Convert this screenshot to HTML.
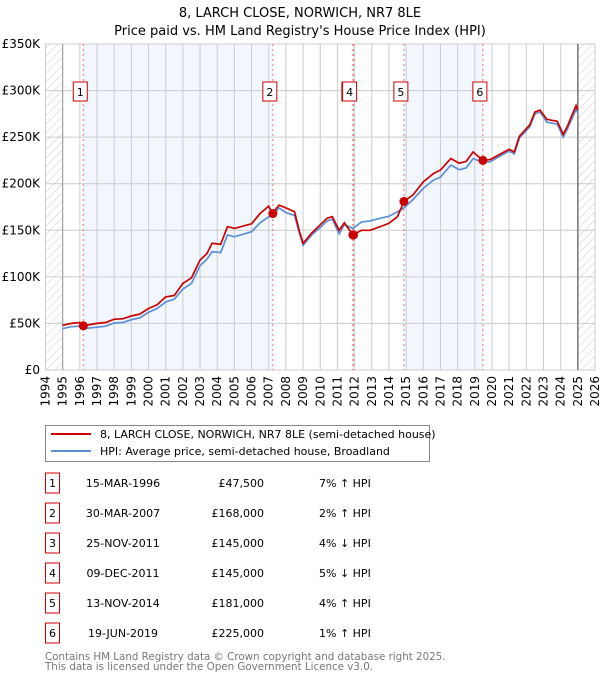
<!DOCTYPE html>
<html><head><meta charset="utf-8"><style>
body{margin:0;background:#fff;font-family:"DejaVu Sans","Liberation Sans",sans-serif;}
svg text{font-family:"DejaVu Sans","Liberation Sans",sans-serif;}
</style></head><body>
<svg id="chart" width="600" height="680" xmlns="http://www.w3.org/2000/svg">
<defs><pattern id="hatch" width="6" height="6" patternUnits="userSpaceOnUse" patternTransform="rotate(45)"><line x1="0" y1="0" x2="0" y2="6" stroke="#ccc" stroke-width="1"/></pattern></defs>
<text x="300" y="17" text-anchor="middle" font-size="13">8, LARCH CLOSE, NORWICH, NR7 8LE</text>
<text x="300" y="35" text-anchor="middle" font-size="13">Price paid vs. HM Land Registry's House Price Index (HPI)</text>
<g id="plot"></g>
<g>
<rect x="45.5" y="425.5" width="384" height="36" fill="#fff" stroke="#888"/>
<line x1="51" y1="434" x2="91" y2="434" stroke="#cc0000" stroke-width="2"/>
<text x="100" y="438" font-size="11">8, LARCH CLOSE, NORWICH, NR7 8LE (semi-detached house)</text>
<line x1="51" y1="451" x2="91" y2="451" stroke="#5b8fd6" stroke-width="2"/>
<text x="100" y="455" font-size="11">HPI: Average price, semi-detached house, Broadland</text>
</g>
<g id="table"></g>
<text x="45" y="660" font-size="10.3" fill="#777">Contains HM Land Registry data © Crown copyright and database right 2025.</text>
<text x="45" y="670" font-size="10.3" fill="#777">This data is licensed under the Open Government Licence v3.0.</text>
</svg>
<script>
const hpiYears=[1995,1995.5,1996,1996.2,1997,1997.5,1998,1998.5,1999,1999.5,2000,2000.5,2001,2001.5,2002,2002.5,2003,2003.4,2003.7,2004.2,2004.6,2005,2006,2006.5,2007,2007.2,2007.6,2008,2008.5,2008.8,2009.0,2009.5,2010,2010.4,2010.7,2011.1,2011.4,2011.9,2012.4,2012.9,2013.5,2014.0,2014.5,2014.87,2015.4,2016.0,2016.6,2017.0,2017.6,2018.1,2018.5,2018.9,2019.47,2019.9,2020.5,2021.0,2021.3,2021.6,2022.2,2022.5,2022.8,2023.2,2023.8,2024.15,2024.4,2024.9,2025.0];
const hpiValues=[44.5,46.5,47,44.5,46,47,50.5,51,54,56,62,66,73,76,87,93,112,119,127,126,145,143,148.5,158,164.5,165,174,169,166,146,134,145,153,160,162,146,156,152,159,160,163,165,170,174,183,195,204,207,220,215,217,227,223,223.6,230,235,232,249,261,275,277,266,264,250,259,280,276];
const priceYears=[1995,1995.5,1996,1996.2,1997,1997.5,1998,1998.5,1999,1999.5,2000,2000.5,2001,2001.5,2002,2002.5,2003,2003.4,2003.7,2004.2,2004.6,2005,2006,2006.5,2007,2007.2,2007.6,2008,2008.5,2008.8,2009.0,2009.5,2010,2010.4,2010.7,2011.1,2011.4,2011.9,2012.4,2012.9,2013.5,2014.0,2014.5,2014.87,2015.4,2016.0,2016.6,2017.0,2017.6,2018.1,2018.5,2018.9,2019.47,2019.9,2020.5,2021.0,2021.3,2021.6,2022.2,2022.5,2022.8,2023.2,2023.8,2024.15,2024.4,2024.9,2025.0];
const priceValues=[48,50,51,47.5,50,51,54.5,55,58,60,66,70,78.5,80,93,99,118,125,136,135,154,152,157,168,176,168,177,174,170,148,136,147,156,163,164.6,150,158,145,150,150,154,157.5,164.6,181,188,202,211,214.7,227,222,224,234,225,226,232,237,234,251,263,277,279,269,267,253,262,284,279];
const saleYears=[1996.2,2007.24,2011.9,2011.94,2014.87,2019.47];
const saleValues=[47.5,168,145,145,181,225];
const saleLabels=["1","2","3","4","5","6"];
const saleDates=["15-MAR-1996","30-MAR-2007","25-NOV-2011","09-DEC-2011","13-NOV-2014","19-JUN-2019"];
const salePrices=["£47,500","£168,000","£145,000","£145,000","£181,000","£225,000"];
const saleHpi=["7% ↑ HPI","2% ↑ HPI","4% ↓ HPI","5% ↓ HPI","4% ↑ HPI","1% ↑ HPI"];
const yTicks=[0,50,100,150,200,250,300,350];
const yTickLabels=["£0","£50K","£100K","£150K","£200K","£250K","£300K","£350K"];
const xTicks=[1994,1995,1996,1997,1998,1999,2000,2001,2002,2003,2004,2005,2006,2007,2008,2009,2010,2011,2012,2013,2014,2015,2016,2017,2018,2019,2020,2021,2022,2023,2024,2025,2026];

const NS="http://www.w3.org/2000/svg";
const X0=45.5,X1=595,Y0=370,Y1=44;
const xs=y=>X0+(y-1994)*(X1-X0)/32;
const ys=v=>Y0-v*(Y0-Y1)/350;
const plot=document.getElementById('plot');
function mk(tag,attrs,parent){const e=document.createElementNS(NS,tag);for(const k in attrs)e.setAttribute(k,attrs[k]);(parent||plot).appendChild(e);return e;}

for(let i=0;i+1<saleYears.length;i+=2){
  const r=mk('rect',{x:xs(saleYears[i]),y:Y1,width:xs(saleYears[i+1])-xs(saleYears[i]),height:Y0-Y1,fill:'#f2f6fd'});
  
  
}
let h=mk('rect',{x:X0,y:Y1,width:xs(1995)-X0,height:Y0-Y1,fill:'url(#hatch)'});


h=mk('rect',{x:xs(2025),y:Y1,width:X1-xs(2025),height:Y0-Y1,fill:'url(#hatch)'});


xTicks.forEach(t=>{
  const l=mk('line',{x1:xs(t),x2:xs(t),y1:Y1,y2:Y0,stroke:'#ccc','stroke-width':1});
  
  
  const tx=mk('text',{x:0,y:0,'font-size':12,'text-anchor':'end',transform:`translate(${xs(t)+4},${Y0+6}) rotate(-90)`});
  tx.textContent=t;
  
  
});
yTicks.forEach((t,i)=>{
  const l=mk('line',{x1:X0,x2:X1,y1:ys(t),y2:ys(t),stroke:'#ccc','stroke-width':1});
  
  
  const tx=mk('text',{x:40,y:ys(t)+4,'font-size':12,'text-anchor':'end'});
  tx.textContent=yTickLabels[i];
  
  
});
let b=mk('line',{x1:xs(1995),x2:xs(1995),y1:Y1,y2:Y0,stroke:'#999','stroke-width':1});


b=mk('line',{x1:xs(2025),x2:xs(2025),y1:Y1,y2:Y0,stroke:'#777','stroke-width':1.5});


saleYears.forEach(s=>{
  const l=mk('line',{x1:xs(s),x2:xs(s),y1:Y1,y2:Y0,stroke:'#f07070','stroke-width':1,'stroke-dasharray':'2,3'});
  
  
});
const pts=(xa,va)=>xa.map((x,i)=>xs(x).toFixed(1)+','+ys(va[i]).toFixed(1)).join(' ');
let pl=mk('polyline',{points:pts(hpiYears,hpiValues),fill:'none',stroke:'#5b8fd6','stroke-width':1.7});


pl=mk('polyline',{points:pts(priceYears,priceValues),fill:'none',stroke:'#cc0000','stroke-width':1.7});


saleYears.forEach((s,i)=>{
  const c=mk('circle',{cx:xs(s),cy:ys(saleValues[i]),r:4.5,fill:'#cc0000'});
  
  
});
saleYears.forEach((s,i)=>{
  const cx=xs(s)-((i==2||i==3)?4:3);
  const g=mk('g',{});
  
  
  mk('rect',{x:cx-7,y:82,width:14,height:19,fill:'#fff',stroke:'#cc0000','stroke-width':1},g);
  const t=mk('text',{x:cx,y:96,'font-size':11,'text-anchor':'middle'},g);
  t.textContent=saleLabels[i];
});
const tb=document.getElementById('table');
saleLabels.forEach((lab,i)=>{
  const y=483+i*30;
  const g=mk('g',{},tb);
  
  
  mk('rect',{x:45.5,y:y-10,width:14,height:20,fill:'#fff',stroke:'#cc0000','stroke-width':1},g);
  let t=mk('text',{x:52.5,y:y+4,'font-size':11,'text-anchor':'middle'},g);t.textContent=lab;
  t=mk('text',{x:123,y:y+4,'font-size':11,'text-anchor':'middle'},g);t.textContent=saleDates[i];
  t=mk('text',{x:264,y:y+4,'font-size':11,'text-anchor':'end'},g);t.textContent=salePrices[i];
  t=mk('text',{x:319,y:y+4,'font-size':11},g);t.textContent=saleHpi[i];
});
</script>
</body></html>
